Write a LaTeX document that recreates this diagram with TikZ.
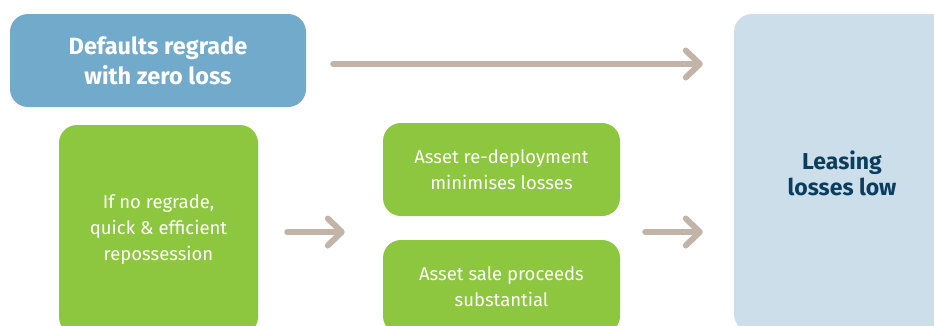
\documentclass[tikz,border=0pt]{standalone}
\usepackage{fontspec}
\setmainfont{Fira Sans}
\usetikzlibrary{arrows.meta,calc}
\definecolor{topblue}{HTML}{72AACB}
\definecolor{leafgreen}{HTML}{8DC63F}
\definecolor{arrowgrey}{HTML}{C2B5A8}
\definecolor{paleblue}{HTML}{CCDEEA}
\definecolor{navy}{HTML}{0B3D5E}
\tikzset{
  box/.style={rounded corners=18pt, inner sep=0pt, align=center, text=white},
  bluebox/.style={box, fill=topblue, font=\fontsize{23.5}{30}\selectfont\bfseries},
  greenbox/.style={box, fill=leafgreen, font=\fontsize{18.5}{26}\selectfont},
  endbox/.style={box, fill=paleblue, text=navy, font=\fontsize{23}{26}\selectfont\bfseries},
  flow/.style={draw=arrowgrey, line width=6pt, line cap=round,
    -{Straight Barb[length=14pt,width=27pt,round]}}
}
\begin{document}
\begin{tikzpicture}[x=1pt,y=-1pt]
\useasboundingbox (0,0) rectangle (934,325);
\clip (0,0) rectangle (934,325);
\node[bluebox, minimum width=296pt, minimum height=93pt] (defaults) at (158,60.5) {Defaults regrade\\with zero loss};
\node[endbox, minimum width=216pt, minimum height=318pt] (leasing) at (842,173) {Leasing\\losses low};
\node[greenbox, minimum width=199pt, minimum height=210pt] (repo) at (158.5,230) {If no regrade,\\quick \& efficient\\repossession};
\node[greenbox, minimum width=237pt, minimum height=93pt] (redeploy) at (501.5,169.5) {Asset re-deployment\\minimises losses};
\node[greenbox, minimum width=237pt, minimum height=94pt] (sale) at (501.5,287) {Asset sale proceeds\\substantial};
\coordinate (mid) at ($(redeploy.south west)!0.5!(sale.north west)+(0,4)$);
\coordinate (midr) at ($(redeploy.south east)!0.5!(sale.north east)+(0,4)$);
\draw[flow, shorten <=27pt, shorten >=31pt] (defaults.east |- 0,64) -- (leasing.west |- 0,64);
\draw[flow, shorten <=29pt, shorten >=38pt] (repo.east |- mid) -- (mid);
\draw[flow, shorten <=25pt, shorten >=31pt] (midr) -- (leasing.west |- midr);
\end{tikzpicture}
\end{document}
